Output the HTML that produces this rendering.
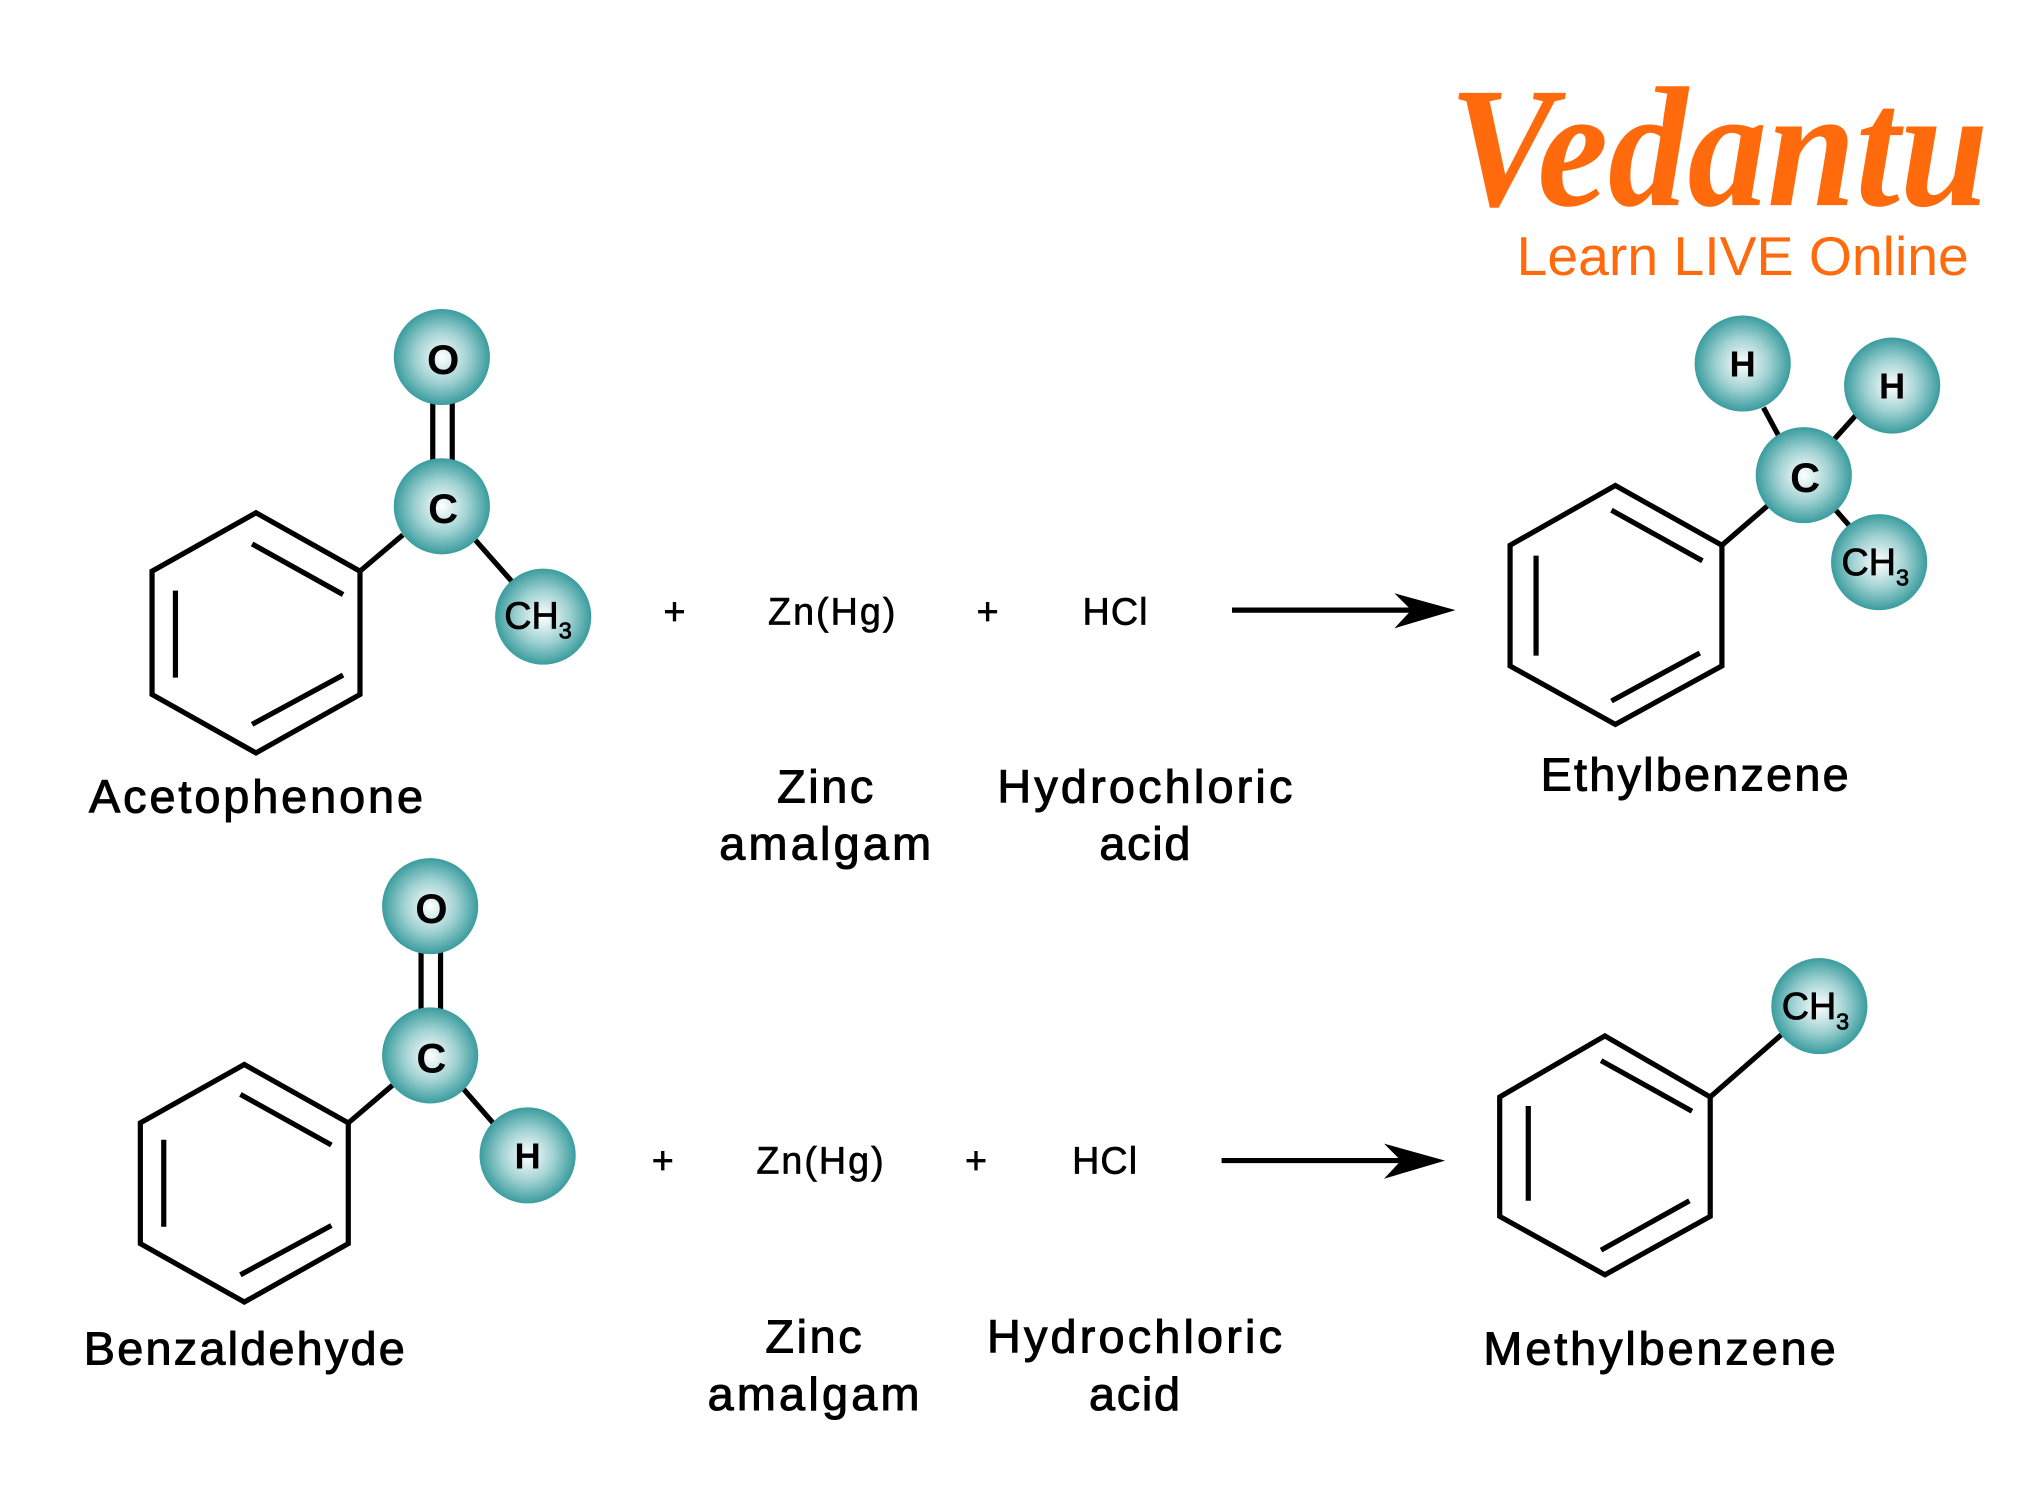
<!DOCTYPE html>
<html><head><meta charset="utf-8"><style>
html,body{margin:0;padding:0;background:#fff;}
svg{display:block;}
</style></head><body>
<svg width="2039" height="1489" viewBox="0 0 1569 1147" preserveAspectRatio="none" xmlns="http://www.w3.org/2000/svg" font-family="'Liberation Sans', sans-serif">
<defs>
<radialGradient id="g" cx="50%" cy="50%" r="50%">
<stop offset="0" stop-color="#ffffff"/>
<stop offset="0.55" stop-color="#9fd1d2"/>
<stop offset="1" stop-color="#3a9c9e"/>
</radialGradient>
</defs>
<rect width="1569" height="1147" fill="#fff"/>

<!-- Logo -->
<text x="1115" y="158" font-size="132" font-style="italic" font-weight="bold" fill="#ff6a0d" textLength="415" lengthAdjust="spacingAndGlyphs" font-family="'Liberation Serif', serif">Vedantu</text>
<text x="1167" y="212" font-size="42" fill="#ff6a0d" textLength="348" lengthAdjust="spacingAndGlyphs">Learn LIVE Online</text>

<g stroke="#000" stroke-width="4" fill="none">
<polygon points="197,395 277,440 277,535 197,580 117,535 117,440"/>
<line x1="194" y1="419" x2="264" y2="458"/>
<line x1="135" y1="455" x2="135" y2="522"/>
<line x1="194" y1="558" x2="264" y2="520"/>
<line x1="277" y1="440" x2="310" y2="412"/>
<line x1="364" y1="414" x2="394" y2="448"/>
<line x1="333" y1="305" x2="333" y2="360"/>
<line x1="348" y1="305" x2="348" y2="360"/>
<line x1="948" y1="470" x2="1090" y2="470"/>
<polygon points="1243,374 1325,420 1325,513 1243,558 1162,513 1162,420"/>
<line x1="1240" y1="393" x2="1310" y2="432"/>
<line x1="1182" y1="428" x2="1182" y2="505"/>
<line x1="1240" y1="540" x2="1308" y2="503"/>
<line x1="1325" y1="420" x2="1362" y2="388"/>
<line x1="1357" y1="314" x2="1372" y2="342"/>
<line x1="1428" y1="320" x2="1410" y2="340"/>
<line x1="1410" y1="390" x2="1424" y2="406"/>
<polygon points="188,820 268,865 268,958 188,1003 108,958 108,865"/>
<line x1="185" y1="843" x2="255" y2="882"/>
<line x1="126" y1="878" x2="126" y2="945"/>
<line x1="185" y1="982" x2="255" y2="944"/>
<line x1="268" y1="865" x2="302" y2="836"/>
<line x1="355" y1="837" x2="382" y2="868"/>
<line x1="324" y1="728" x2="324" y2="784"/>
<line x1="339" y1="728" x2="339" y2="784"/>
<line x1="940" y1="894" x2="1082" y2="894"/>
<polygon points="1235,798 1316,845 1316,937 1235,982 1154,937 1154,845"/>
<line x1="1232" y1="817" x2="1302" y2="856"/>
<line x1="1176" y1="852" x2="1176" y2="925"/>
<line x1="1232" y1="963" x2="1300" y2="925"/>
<line x1="1316" y1="845" x2="1372" y2="796"/>
</g>
<path d="M1120,470 L1073,457 L1086,470 L1073,484 Z" fill="#000"/>
<path d="M1112,894 L1065,881 L1078,894 L1065,908 Z" fill="#000"/>

<g fill="url(#g)">
<circle cx="340" cy="275" r="37"/>
<circle cx="340" cy="390" r="37"/>
<circle cx="418" cy="475" r="37"/>
<circle cx="1341" cy="280" r="37"/>
<circle cx="1456" cy="297" r="37"/>
<circle cx="1388" cy="366" r="37"/>
<circle cx="1446" cy="433" r="37"/>
<circle cx="331" cy="698" r="37"/>
<circle cx="331" cy="813" r="37"/>
<circle cx="406" cy="890" r="37"/>
<circle cx="1400" cy="775" r="37"/>
</g>
<g font-size="32" text-anchor="middle" fill="#000">
<text x="341" y="288" font-weight="bold">O</text>
<text x="341" y="403" font-weight="bold">C</text>
<text x="414" y="484" font-size="29" stroke="#000" stroke-width="0.6">CH<tspan font-size="18" dy="8">3</tspan></text>
<text x="1341" y="290" font-size="28" font-weight="bold">H</text>
<text x="1456" y="307" font-size="28" font-weight="bold">H</text>
<text x="1389" y="379" font-weight="bold">C</text>
<text x="1443" y="443" font-size="29" stroke="#000" stroke-width="0.6">CH<tspan font-size="18" dy="8">3</tspan></text>
<text x="332" y="711" font-weight="bold">O</text>
<text x="332" y="826" font-weight="bold">C</text>
<text x="406" y="900" font-size="28" font-weight="bold">H</text>
<text x="1397" y="785" font-size="29" stroke="#000" stroke-width="0.6">CH<tspan font-size="18" dy="8">3</tspan></text>
</g>

<g font-size="29" text-anchor="middle" fill="#000" stroke="#000" stroke-width="0.5" lengthAdjust="spacingAndGlyphs">
<text x="519" y="481">+</text>
<text x="640" y="481" textLength="98">Zn(Hg)</text>
<text x="760" y="481">+</text>
<text x="858" y="481" textLength="50">HCl</text>
<text x="510" y="904">+</text>
<text x="631" y="904" textLength="98">Zn(Hg)</text>
<text x="751" y="904">+</text>
<text x="850" y="904" textLength="50">HCl</text>
</g>
<g font-size="36" text-anchor="middle" fill="#000" stroke="#000" stroke-width="0.8" lengthAdjust="spacingAndGlyphs">
<text x="197" y="626" textLength="257">Acetophenone</text>
<text x="635" y="618" textLength="74">Zinc</text>
<text x="635" y="662" textLength="163">amalgam</text>
<text x="881" y="618" textLength="227">Hydrochloric</text>
<text x="881" y="662" textLength="70">acid</text>
<text x="1304" y="609" textLength="237">Ethylbenzene</text>
<text x="188" y="1051" textLength="247">Benzaldehyde</text>
<text x="626" y="1042" textLength="74">Zinc</text>
<text x="626" y="1086" textLength="163">amalgam</text>
<text x="873" y="1042" textLength="227">Hydrochloric</text>
<text x="873" y="1086" textLength="70">acid</text>
<text x="1277" y="1051" textLength="271">Methylbenzene</text>
</g>
</svg>
</body></html>
